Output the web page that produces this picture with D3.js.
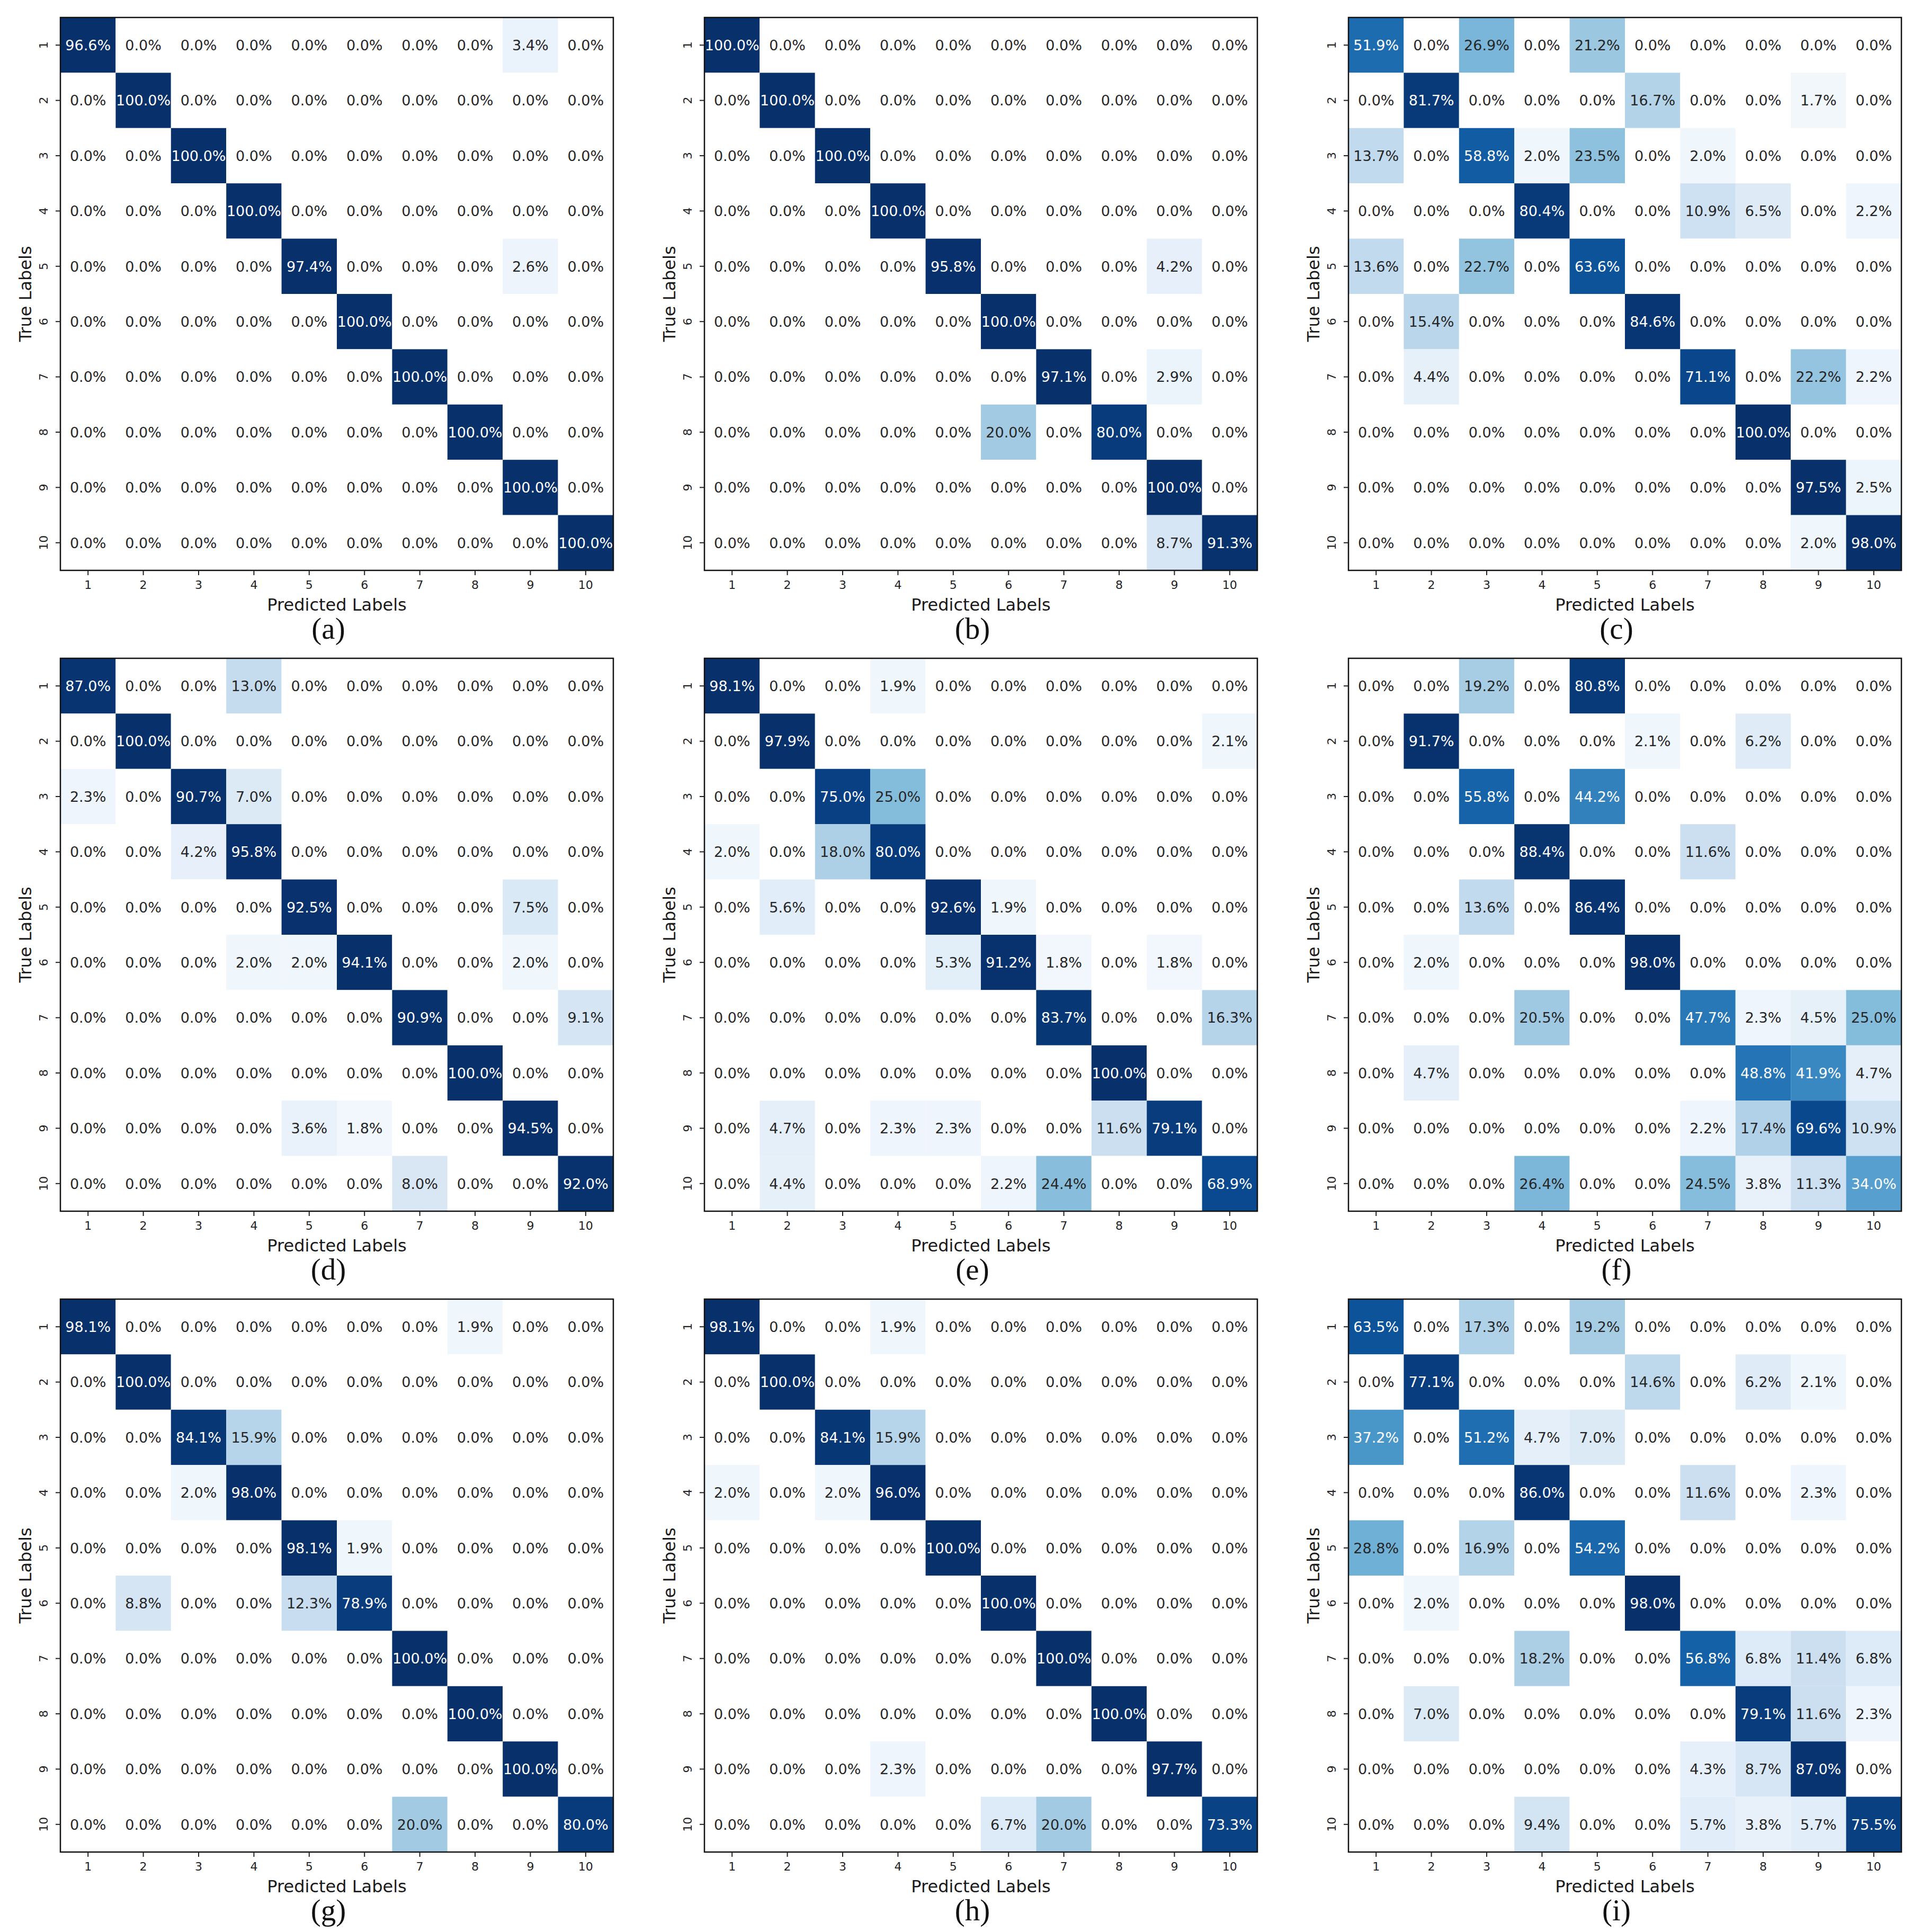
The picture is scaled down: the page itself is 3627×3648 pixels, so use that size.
<!DOCTYPE html>
<html>
<head>
<meta charset="utf-8">
<script src="https://cdn.jsdelivr.net/npm/d3@7"></script>
<style>
  body { margin: 0; background: #fff; }
  svg text { font-family: "DejaVu Sans", sans-serif; }
</style>
</head>
<body>
<div id="chart"></div>
<script>
// class names on both axes
var classLabels = ["1", "2", "3", "4", "5", "6", "7", "8", "9", "10"];
var panelLetters = ["(a)", "(b)", "(c)", "(d)", "(e)", "(f)", "(g)", "(h)", "(i)"];

// row = true label, column = predicted label, values in %
var confA = [
	[96.6, 0, 0, 0, 0, 0, 0, 0, 3.4, 0],
	[0, 100, 0, 0, 0, 0, 0, 0, 0, 0],
	[0, 0, 100, 0, 0, 0, 0, 0, 0, 0],
	[0, 0, 0, 100, 0, 0, 0, 0, 0, 0],
	[0, 0, 0, 0, 97.4, 0, 0, 0, 2.6, 0],
	[0, 0, 0, 0, 0, 100, 0, 0, 0, 0],
	[0, 0, 0, 0, 0, 0, 100, 0, 0, 0],
	[0, 0, 0, 0, 0, 0, 0, 100, 0, 0],
	[0, 0, 0, 0, 0, 0, 0, 0, 100, 0],
	[0, 0, 0, 0, 0, 0, 0, 0, 0, 100]
];
var confB = [
	[100, 0, 0, 0, 0, 0, 0, 0, 0, 0],
	[0, 100, 0, 0, 0, 0, 0, 0, 0, 0],
	[0, 0, 100, 0, 0, 0, 0, 0, 0, 0],
	[0, 0, 0, 100, 0, 0, 0, 0, 0, 0],
	[0, 0, 0, 0, 95.8, 0, 0, 0, 4.2, 0],
	[0, 0, 0, 0, 0, 100, 0, 0, 0, 0],
	[0, 0, 0, 0, 0, 0, 97.1, 0, 2.9, 0],
	[0, 0, 0, 0, 0, 20.0, 0, 80.0, 0, 0],
	[0, 0, 0, 0, 0, 0, 0, 0, 100, 0],
	[0, 0, 0, 0, 0, 0, 0, 0, 8.7, 91.3]
];
var confC = [
	[51.9, 0, 26.9, 0, 21.2, 0, 0, 0, 0, 0],
	[0, 81.7, 0, 0, 0, 16.7, 0, 0, 1.7, 0],
	[13.7, 0, 58.8, 2.0, 23.5, 0, 2.0, 0, 0, 0],
	[0, 0, 0, 80.4, 0, 0, 10.9, 6.5, 0, 2.2],
	[13.6, 0, 22.7, 0, 63.6, 0, 0, 0, 0, 0],
	[0, 15.4, 0, 0, 0, 84.6, 0, 0, 0, 0],
	[0, 4.4, 0, 0, 0, 0, 71.1, 0, 22.2, 2.2],
	[0, 0, 0, 0, 0, 0, 0, 100, 0, 0],
	[0, 0, 0, 0, 0, 0, 0, 0, 97.5, 2.5],
	[0, 0, 0, 0, 0, 0, 0, 0, 2.0, 98.0]
];
var confD = [
	[87.0, 0, 0, 13.0, 0, 0, 0, 0, 0, 0],
	[0, 100, 0, 0, 0, 0, 0, 0, 0, 0],
	[2.3, 0, 90.7, 7.0, 0, 0, 0, 0, 0, 0],
	[0, 0, 4.2, 95.8, 0, 0, 0, 0, 0, 0],
	[0, 0, 0, 0, 92.5, 0, 0, 0, 7.5, 0],
	[0, 0, 0, 2.0, 2.0, 94.1, 0, 0, 2.0, 0],
	[0, 0, 0, 0, 0, 0, 90.9, 0, 0, 9.1],
	[0, 0, 0, 0, 0, 0, 0, 100, 0, 0],
	[0, 0, 0, 0, 3.6, 1.8, 0, 0, 94.5, 0],
	[0, 0, 0, 0, 0, 0, 8.0, 0, 0, 92.0]
];
var confE = [
	[98.1, 0, 0, 1.9, 0, 0, 0, 0, 0, 0],
	[0, 97.9, 0, 0, 0, 0, 0, 0, 0, 2.1],
	[0, 0, 75.0, 25.0, 0, 0, 0, 0, 0, 0],
	[2.0, 0, 18.0, 80.0, 0, 0, 0, 0, 0, 0],
	[0, 5.6, 0, 0, 92.6, 1.9, 0, 0, 0, 0],
	[0, 0, 0, 0, 5.3, 91.2, 1.8, 0, 1.8, 0],
	[0, 0, 0, 0, 0, 0, 83.7, 0, 0, 16.3],
	[0, 0, 0, 0, 0, 0, 0, 100, 0, 0],
	[0, 4.7, 0, 2.3, 2.3, 0, 0, 11.6, 79.1, 0],
	[0, 4.4, 0, 0, 0, 2.2, 24.4, 0, 0, 68.9]
];
var confF = [
	[0, 0, 19.2, 0, 80.8, 0, 0, 0, 0, 0],
	[0, 91.7, 0, 0, 0, 2.1, 0, 6.2, 0, 0],
	[0, 0, 55.8, 0, 44.2, 0, 0, 0, 0, 0],
	[0, 0, 0, 88.4, 0, 0, 11.6, 0, 0, 0],
	[0, 0, 13.6, 0, 86.4, 0, 0, 0, 0, 0],
	[0, 2.0, 0, 0, 0, 98.0, 0, 0, 0, 0],
	[0, 0, 0, 20.5, 0, 0, 47.7, 2.3, 4.5, 25.0],
	[0, 4.7, 0, 0, 0, 0, 0, 48.8, 41.9, 4.7],
	[0, 0, 0, 0, 0, 0, 2.2, 17.4, 69.6, 10.9],
	[0, 0, 0, 26.4, 0, 0, 24.5, 3.8, 11.3, 34.0]
];
var confG = [
	[98.1, 0, 0, 0, 0, 0, 0, 1.9, 0, 0],
	[0, 100, 0, 0, 0, 0, 0, 0, 0, 0],
	[0, 0, 84.1, 15.9, 0, 0, 0, 0, 0, 0],
	[0, 0, 2.0, 98.0, 0, 0, 0, 0, 0, 0],
	[0, 0, 0, 0, 98.1, 1.9, 0, 0, 0, 0],
	[0, 8.8, 0, 0, 12.3, 78.9, 0, 0, 0, 0],
	[0, 0, 0, 0, 0, 0, 100, 0, 0, 0],
	[0, 0, 0, 0, 0, 0, 0, 100, 0, 0],
	[0, 0, 0, 0, 0, 0, 0, 0, 100, 0],
	[0, 0, 0, 0, 0, 0, 20.0, 0, 0, 80.0]
];
var confH = [
	[98.1, 0, 0, 1.9, 0, 0, 0, 0, 0, 0],
	[0, 100, 0, 0, 0, 0, 0, 0, 0, 0],
	[0, 0, 84.1, 15.9, 0, 0, 0, 0, 0, 0],
	[2.0, 0, 2.0, 96.0, 0, 0, 0, 0, 0, 0],
	[0, 0, 0, 0, 100, 0, 0, 0, 0, 0],
	[0, 0, 0, 0, 0, 100, 0, 0, 0, 0],
	[0, 0, 0, 0, 0, 0, 100, 0, 0, 0],
	[0, 0, 0, 0, 0, 0, 0, 100, 0, 0],
	[0, 0, 0, 2.3, 0, 0, 0, 0, 97.7, 0],
	[0, 0, 0, 0, 0, 6.7, 20.0, 0, 0, 73.3]
];
var confI = [
	[63.5, 0, 17.3, 0, 19.2, 0, 0, 0, 0, 0],
	[0, 77.1, 0, 0, 0, 14.6, 0, 6.2, 2.1, 0],
	[37.2, 0, 51.2, 4.7, 7.0, 0, 0, 0, 0, 0],
	[0, 0, 0, 86.0, 0, 0, 11.6, 0, 2.3, 0],
	[28.8, 0, 16.9, 0, 54.2, 0, 0, 0, 0, 0],
	[0, 2.0, 0, 0, 0, 98.0, 0, 0, 0, 0],
	[0, 0, 0, 18.2, 0, 0, 56.8, 6.8, 11.4, 6.8],
	[0, 7.0, 0, 0, 0, 0, 0, 79.1, 11.6, 2.3],
	[0, 0, 0, 0, 0, 0, 4.3, 8.7, 87.0, 0],
	[0, 0, 0, 9.4, 0, 0, 5.7, 3.8, 5.7, 75.5]
];

var matrices = [confA, confB, confC, confD, confE, confF, confG, confH, confI];

var W = 3627, H = 3648;
var size = 1044;               // side of one matrix
var colX = [114, 1330, 2546];  // left edge of the matrix in each panel column
var rowY = [33, 1243, 2453];   // top edge of the matrix in each panel row

var svg = d3.select("#chart")
	.append("svg")
	.attr("width", W)
	.attr("height", H);

svg.append("rect").attr("width", W).attr("height", H).attr("fill", "#fff");

var x = d3.scaleBand().domain(classLabels).range([0, size]);
var y = d3.scaleBand().domain(classLabels).range([0, size]);

// Blues colour ramp, stretched so small percentages already get some tint;
// starts from plain white like the picture
var shade = d3.scaleSequential(function(t) {
		var u = t * (2 - t);
		return u < 0.04 ? d3.interpolateRgb("#ffffff", d3.interpolateBlues(0.04))(u / 0.04)
			: d3.interpolateBlues(u);
	})
	.domain([0, 100])
	.clamp(true);

matrices.forEach(function(m, k) {
	var ox = colX[k % 3], oy = rowY[Math.floor(k / 3)];
	var g = svg.append("g").attr("transform", "translate(" + ox + "," + oy + ")");

	// flatten rows into cells
	var cells = [];
	m.forEach(function(row, i) {
		row.forEach(function(v, j) {
			cells.push({ t: classLabels[i], p: classLabels[j], value: v });
		});
	});

	g.selectAll(".cell")
		.data(cells)
		.enter().append("rect")
		.attr("class", "cell")
		.attr("x", function(d) { return x(d.p); })
		.attr("y", function(d) { return y(d.t); })
		.attr("width", x.bandwidth())
		.attr("height", y.bandwidth())
		.attr("fill", function(d) { return shade(d.value); });

	g.selectAll(".val")
		.data(cells)
		.enter().append("text")
		.attr("class", "val")
		.attr("x", function(d) { return x(d.p) + x.bandwidth() / 2; })
		.attr("y", function(d) { return y(d.t) + y.bandwidth() / 2; })
		.attr("dy", "0.36em")
		.attr("text-anchor", "middle")
		.attr("font-size", 27)
		.attr("fill", function(d) { return d.value > 29 ? "#ffffff" : "#262626"; })
		.text(function(d) { return d.value.toFixed(1) + "%"; });

	// frame
	g.append("rect")
		.attr("width", size)
		.attr("height", size)
		.attr("fill", "none")
		.attr("stroke", "#111")
		.attr("stroke-width", 2.5);

	// x axis
	var xa = g.append("g")
		.attr("transform", "translate(0," + size + ")")
		.call(d3.axisBottom(x).tickSize(9));
	xa.select(".domain").remove();
	xa.selectAll("line").attr("stroke", "#222").attr("stroke-width", 2);
	xa.selectAll("text")
		.attr("font-family", "DejaVu Sans")
		.attr("font-size", 22)
		.attr("fill", "#222")
		.attr("dy", null)
		.attr("y", 35);

	// y axis, tick labels turned on their side
	var ya = g.append("g")
		.call(d3.axisLeft(y).tickSize(9));
	ya.select(".domain").remove();
	ya.selectAll("line").attr("stroke", "#222").attr("stroke-width", 2);
	ya.selectAll("text")
		.attr("font-family", "DejaVu Sans")
		.attr("font-size", 22)
		.attr("fill", "#222")
		.attr("x", null)
		.attr("dy", null)
		.attr("text-anchor", "middle")
		.attr("transform", "translate(-24,0) rotate(-90)");

	g.append("text")
		.attr("x", size / 2)
		.attr("y", size + 76)
		.attr("text-anchor", "middle")
		.attr("font-size", 32)
		.attr("fill", "#1a1a1a")
		.text("Predicted Labels");

	g.append("text")
		.attr("transform", "translate(-55," + (size / 2) + ") rotate(-90)")
		.attr("text-anchor", "middle")
		.attr("font-size", 32)
		.attr("fill", "#1a1a1a")
		.text("True Labels");

	g.append("text")
		.attr("x", size / 2 - 16)
		.attr("y", size + 129)
		.attr("text-anchor", "middle")
		.style("font-family", "'Liberation Serif', 'Times New Roman', serif")
		.attr("font-size", 57)
		.attr("fill", "#111")
		.text(panelLetters[k]);
});
</script>
</body>
</html>
